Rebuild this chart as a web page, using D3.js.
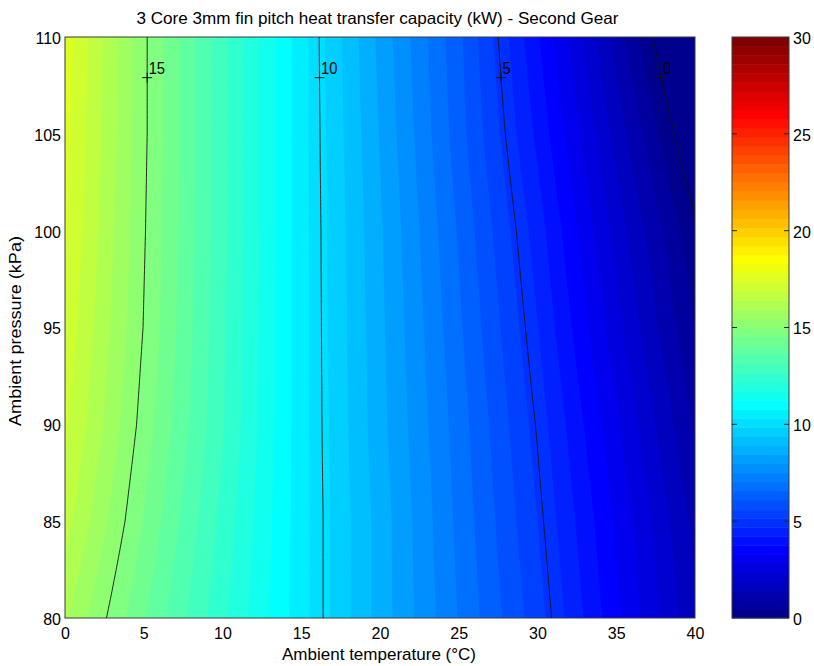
<!DOCTYPE html>
<html>
<head>
<meta charset="utf-8">
<script src="https://cdn.jsdelivr.net/npm/d3@7"></script>
<style>
  body { margin: 0; background: #fff; }
  svg { display: block; }
  text { font-family: "Liberation Sans", Arial, sans-serif; fill: #000; }
</style>
</head>
<body>
<svg id="chart" width="814" height="666"></svg>
<script>
// Heat transfer capacity (kW) sampled on a temperature × pressure grid
const temperatures = [0, 5, 10, 15, 20, 25, 30, 35, 40];      // °C
const pressures = [80, 85, 90, 95, 100, 105, 110];              // kPa
// one row per pressure (80 → 110), one column per temperature
const capacity = [
  [16.0, 14.1, 12.3, 10.5, 8.7, 7.0, 5.35, 3.4, 1.5],
  [16.6, 14.5, 12.5, 10.5, 8.7, 6.9, 5.15, 3.2, 1.25],
  [17.0, 14.8, 12.7, 10.5, 8.6, 6.8, 4.95, 2.9, 0.85],
  [17.2, 14.98, 12.75, 10.5, 8.55, 6.65, 4.7, 2.5, 0.45],
  [17.4, 15.05, 12.8, 10.5, 8.5, 6.5, 4.45, 2.15, 0.1],
  [17.5, 15.1, 12.8, 10.5, 8.4, 6.3, 4.1, 1.7, -0.6],
  [17.6, 15.1, 12.8, 10.5, 8.3, 6.2, 3.8, 1.2, -1.4]
];
const contourLevels = [0, 5, 10, 15];
const labelPressure = 107.9;                  // where the contour labels sit
const xTicks = [0, 5, 10, 15, 20, 25, 30, 35, 40];
const yTicks = [80, 85, 90, 95, 100, 105, 110];
const colorTicks = [0, 5, 10, 15, 20, 25, 30];
const colorDomain = [0, 30];

const titleText = "3 Core 3mm fin pitch heat transfer capacity (kW) - Second Gear";
const xLabelText = "Ambient temperature (°C)";
const yLabelText = "Ambient pressure (kPa)";

// ---- layout ----
const plot = { left: 65, right: 695, top: 37, bottom: 618 };
const cbar = { left: 732, right: 789 };

const svg = d3.select("#chart");

const x = d3.scaleLinear().domain(d3.extent(temperatures)).range([plot.left, plot.right]);
const y = d3.scaleLinear().domain(d3.extent(pressures)).range([plot.bottom, plot.top]);

// MATLAB-style jet colormap with 64 entries
function jetColors(m) {
  const n = Math.ceil(m / 4);
  const u = [];
  for (let i = 1; i <= n; i++) u.push(i / n);
  for (let i = 1; i < n; i++) u.push(1);
  for (let i = n; i >= 1; i--) u.push(i / n);
  const gOff = Math.ceil(n / 2) - (m % 4 === 1 ? 1 : 0);
  const rgb = d3.range(m).map(() => [0, 0, 0]);
  u.forEach((val, k) => {
    const g = gOff + k, r = g + n, b = g - n;
    if (g >= 0 && g < m) rgb[g][1] = val;
    if (r >= 0 && r < m) rgb[r][0] = val;
    if (b >= 0 && b < m) rgb[b][2] = val;
  });
  return rgb.map(c => d3.rgb(c[0] * 255, c[1] * 255, c[2] * 255).formatHex());
}
const jet = jetColors(64);
const color = d3.scaleQuantize().domain(colorDomain).range(jet);

// bilinear lookup in the capacity grid
function capacityAt(t, p) {
  const fx = (t - temperatures[0]) / (temperatures[1] - temperatures[0]);
  const fy = (p - pressures[0]) / (pressures[1] - pressures[0]);
  const i0 = Math.max(0, Math.min(temperatures.length - 2, Math.floor(fx)));
  const j0 = Math.max(0, Math.min(pressures.length - 2, Math.floor(fy)));
  const ax = fx - i0, ay = fy - j0;
  const v00 = capacity[j0][i0], v10 = capacity[j0][i0 + 1];
  const v01 = capacity[j0 + 1][i0], v11 = capacity[j0 + 1][i0 + 1];
  return (v00 * (1 - ax) + v10 * ax) * (1 - ay) + (v01 * (1 - ax) + v11 * ax) * ay;
}

// finer sampling of the surface for the interpolated shading
const dT = 0.125, dP = 0.125;
const nx = Math.round((temperatures[temperatures.length - 1] - temperatures[0]) / dT) + 1;
const ny = Math.round((pressures[pressures.length - 1] - pressures[0]) / dP) + 1;
const fine = new Float64Array(nx * ny);
for (let j = 0; j < ny; j++) {
  for (let i = 0; i < nx; i++) {
    fine[j * nx + i] = capacityAt(temperatures[0] + i * dT, pressures[0] + j * dP);
  }
}

const toPixels = d3.geoTransform({
  point(gx, gy) {
    this.stream.point(
      x(temperatures[0] + (gx - 0.5) * dT),
      y(pressures[0] + (gy - 0.5) * dP)
    );
  }
});
const path = d3.geoPath(toPixels);

svg.append("defs").append("clipPath").attr("id", "plot-clip")
  .append("rect")
  .attr("x", plot.left).attr("y", plot.top)
  .attr("width", plot.right - plot.left).attr("height", plot.bottom - plot.top);

const surface = svg.append("g").attr("clip-path", "url(#plot-clip)");

// lowest colour underneath, then one filled band per colormap step
surface.append("rect")
  .attr("x", plot.left).attr("y", plot.top)
  .attr("width", plot.right - plot.left).attr("height", plot.bottom - plot.top)
  .attr("fill", jet[0]);

const bandThresholds = d3.range(1, jet.length).map(k => colorDomain[0] + k * (colorDomain[1] - colorDomain[0]) / jet.length);
const bands = d3.contours().size([nx, ny]).thresholds(bandThresholds)(fine);
surface.selectAll("path.band")
  .data(bands)
  .join("path")
  .attr("class", "band")
  .attr("d", path)
  .attr("fill", d => color(d.value + 1e-6))
  .attr("stroke", d => color(d.value + 1e-6))
  .attr("stroke-width", 0.6);

// isolines
const lines = d3.contours().size([nx, ny]).thresholds(contourLevels)(fine);
surface.selectAll("path.iso")
  .data(lines)
  .join("path")
  .attr("class", "iso")
  .attr("d", path)
  .attr("fill", "none")
  .attr("stroke", "#111")
  .attr("stroke-width", 0.9);

// contour labels: "+" marker on the line with the level written beside it
function crossingAt(level, p) {
  const steps = 4000;
  const t0 = temperatures[0], t1 = temperatures[temperatures.length - 1];
  let prev = capacityAt(t0, p);
  for (let s = 1; s <= steps; s++) {
    const t = t0 + (t1 - t0) * s / steps;
    const v = capacityAt(t, p);
    if ((prev - level) * (v - level) <= 0) {
      const tp = t - (t1 - t0) / steps;
      return tp + (t - tp) * (prev - level) / (prev - v);
    }
    prev = v;
  }
  return null;
}
const labelGroup = surface.append("g");
contourLevels.forEach(level => {
  const t = crossingAt(level, labelPressure);
  if (t === null) return;
  const px = x(t), py = y(labelPressure);
  labelGroup.append("path")
    .attr("d", `M${px - 5},${py}H${px + 5}M${px},${py - 5}V${py + 5}`)
    .attr("stroke", "#111").attr("stroke-width", 1);
  labelGroup.append("text")
    .attr("x", px + 1.5).attr("y", py - 3.5)
    .attr("font-size", 17)
    .attr("textLength", String(level).length * 8.2)
    .attr("lengthAdjust", "spacingAndGlyphs")
    .text(level);
});

// plot frame
svg.append("rect")
  .attr("x", plot.left).attr("y", plot.top)
  .attr("width", plot.right - plot.left).attr("height", plot.bottom - plot.top)
  .attr("fill", "none").attr("stroke", "#3a3a3a").attr("stroke-width", 1);

// axes tick labels
const xAxis = d3.axisBottom(x).tickValues(xTicks).tickSize(0).tickPadding(10).tickFormat(d3.format("d"));
const gx = svg.append("g").attr("transform", `translate(0,${plot.bottom})`).call(xAxis);
const yAxis = d3.axisLeft(y).tickValues(yTicks).tickSize(0).tickPadding(4).tickFormat(d3.format("d"));
const gy = svg.append("g").attr("transform", `translate(${plot.left},0)`).call(yAxis);
[gx, gy].forEach(g => {
  g.select(".domain").remove();
  g.selectAll("text").attr("font-size", 16).attr("font-family", null).attr("fill", "#000");
  g.attr("font-family", null).attr("font-size", null);
});
gy.selectAll("text").attr("dy", "0.40em");

// colour bar
const cy = d3.scaleLinear().domain(colorDomain).range([plot.bottom, plot.top]);
const cbarG = svg.append("g");
cbarG.selectAll("rect")
  .data(jet)
  .join("rect")
  .attr("x", cbar.left)
  .attr("width", cbar.right - cbar.left)
  .attr("y", (c, k) => cy(colorDomain[0] + (k + 1) * (colorDomain[1] - colorDomain[0]) / jet.length))
  .attr("height", (c, k) => cy(colorDomain[0] + k * 30 / jet.length) - cy(colorDomain[0] + (k + 1) * 30 / jet.length) + 0.5)
  .attr("fill", c => c);
cbarG.append("rect")
  .attr("x", cbar.left).attr("y", plot.top)
  .attr("width", cbar.right - cbar.left).attr("height", plot.bottom - plot.top)
  .attr("fill", "none").attr("stroke", "#3a3a3a").attr("stroke-width", 1);
cbarG.selectAll("path.tick")
  .data(colorTicks.slice(1, -1))
  .join("path")
  .attr("class", "tick")
  .attr("d", v => `M${cbar.left},${cy(v)}h5M${cbar.right},${cy(v)}h-5`)
  .attr("stroke", "#222").attr("stroke-width", 1);
const cAxis = d3.axisRight(cy).tickValues(colorTicks).tickSize(0).tickPadding(4).tickFormat(d3.format("d"));
const gc = svg.append("g").attr("transform", `translate(${cbar.right},0)`).call(cAxis);
gc.select(".domain").remove();
gc.attr("font-family", null).attr("font-size", null);
gc.selectAll("text").attr("font-size", 16).attr("fill", "#000").attr("dy", "0.40em");

// titles
svg.append("text")
  .attr("x", 377.5).attr("y", 24)
  .attr("text-anchor", "middle").attr("font-size", 16.5)
  .attr("textLength", 482).attr("lengthAdjust", "spacingAndGlyphs")
  .text(titleText);
svg.append("text")
  .attr("x", 379).attr("y", 660)
  .attr("text-anchor", "middle").attr("font-size", 17)
  .attr("textLength", 194).attr("lengthAdjust", "spacingAndGlyphs")
  .text(xLabelText);
svg.append("text")
  .attr("transform", "translate(21,331) rotate(-90)")
  .attr("text-anchor", "middle").attr("font-size", 17)
  .attr("textLength", 190).attr("lengthAdjust", "spacingAndGlyphs")
  .text(yLabelText);
</script>
</body>
</html>
